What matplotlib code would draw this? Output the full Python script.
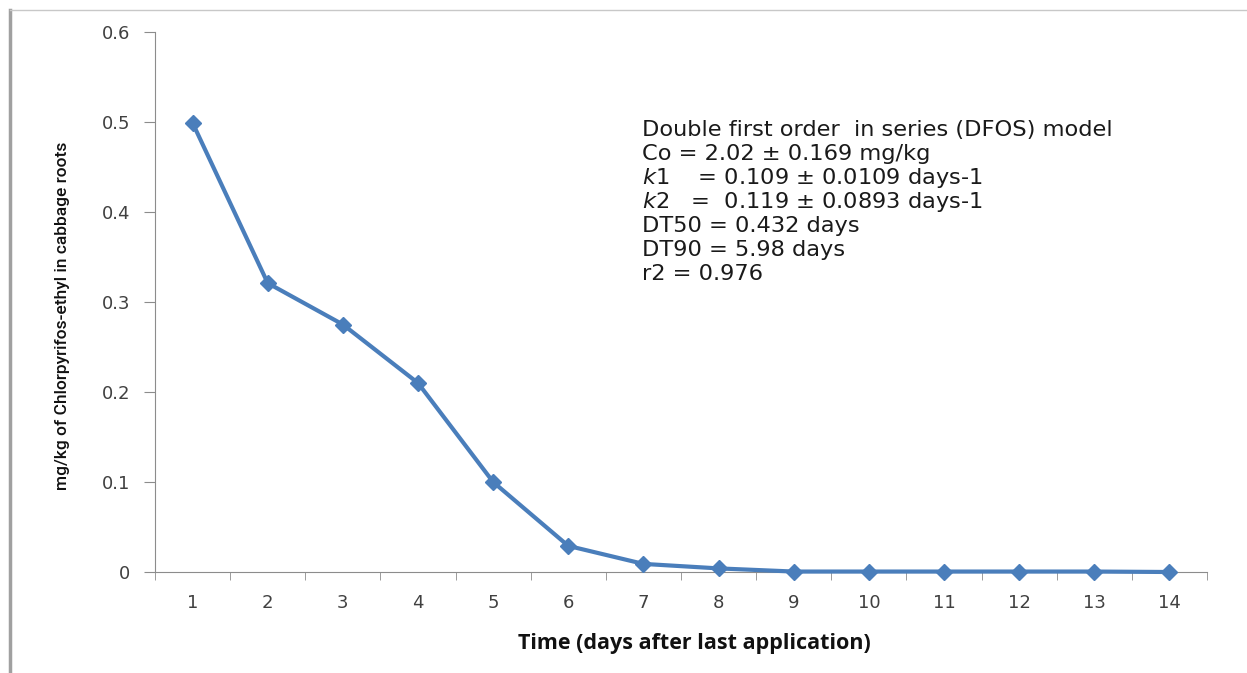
import numpy as np
import matplotlib.pyplot as plt
from matplotlib.lines import Line2D

# residue data
days = [1, 2, 3, 4, 5, 6, 7, 8, 9, 10, 11, 12, 13, 14]
residue = [0.499, 0.321, 0.275, 0.210, 0.100, 0.029, 0.009, 0.004, 0.0005, 0.0005, 0.0005, 0.0005, 0.0005, 0.0]
y_ticks = [0, 0.1, 0.2, 0.3, 0.4, 0.5, 0.6]
y_tick_labels = ["0", "0.1", "0.2", "0.3", "0.4", "0.5", "0.6"]
model_lines = [
    "Double first order  in series (DFOS) model",
    "Co = 2.02 \u00b1 0.169 mg/kg",
    "$\\it{k1}$    = 0.109 \u00b1 0.0109 days-1",
    "$\\it{k2}$   =  0.119 \u00b1 0.0893 days-1",
    "DT50 = 0.432 days",
    "DT90 = 5.98 days",
    "r2 = 0.976",
]

blue = "#4A7EBB"
grey = "#8C8C8C"
txt = "#404040"

fig = plt.figure(figsize=(12.47, 6.73), dpi=100)
ax = fig.add_axes([155/1247, 1-572/673, (1207-155)/1247, (572-32)/673])

ax.plot(days, residue, '-', color=blue, lw=3, marker='D', ms=8, mfc=blue, mec=blue, zorder=3, clip_on=False)

ax.set_xlim(0.5, 14.5)
ax.set_ylim(0, 0.6)
ax.set_yticks(y_ticks)
ax.set_yticklabels(y_tick_labels)
ax.set_xticks(days)
ax.set_xticklabels([str(d) for d in days])
ax.set_xticks(np.arange(0.5, 15, 1), minor=True)

ax.spines['top'].set_visible(False)
ax.spines['right'].set_visible(False)
ax.spines['left'].set_color(grey)
ax.spines['bottom'].set_color(grey)
ax.tick_params(axis='y', direction='out', length=8, color=grey, labelsize=13, labelcolor=txt, pad=10)
ax.tick_params(axis='x', which='major', length=0, labelsize=13, labelcolor=txt, pad=16)
ax.tick_params(axis='x', which='minor', direction='out', length=6, color=grey)

ax.set_xlabel("Time (days after last application)", fontsize=15.5, fontweight='bold', family='Open Sans', color='#111111')
ax.xaxis.set_label_coords((694-155)/1052, -(633-572)/540)
ax.set_ylabel("mg/kg of Chlorpyrifos-ethyl in cabbage roots", fontsize=12.5, family='Roboto', fontweight='medium', color='#111111')
ax.yaxis.set_label_coords(-(155-70)/1052, (572-316)/540)

for i, line in enumerate(model_lines):
    fig.text(642/1247, 1-(130+24*i)/673, line, fontsize=16.2, family='DejaVu Sans', color='#1a1a1a', va='center', ha='left')

# outer frame lines like the screenshot border
fig.add_artist(Line2D([10/1247, 10/1247], [0, 1-10/673], color='#A0A0A0', lw=2.5, transform=fig.transFigure))
fig.add_artist(Line2D([10/1247, 1], [1-10/673, 1-10/673], color='#C8C8C8', lw=1, transform=fig.transFigure))

fig.savefig("out.png", dpi=100)
